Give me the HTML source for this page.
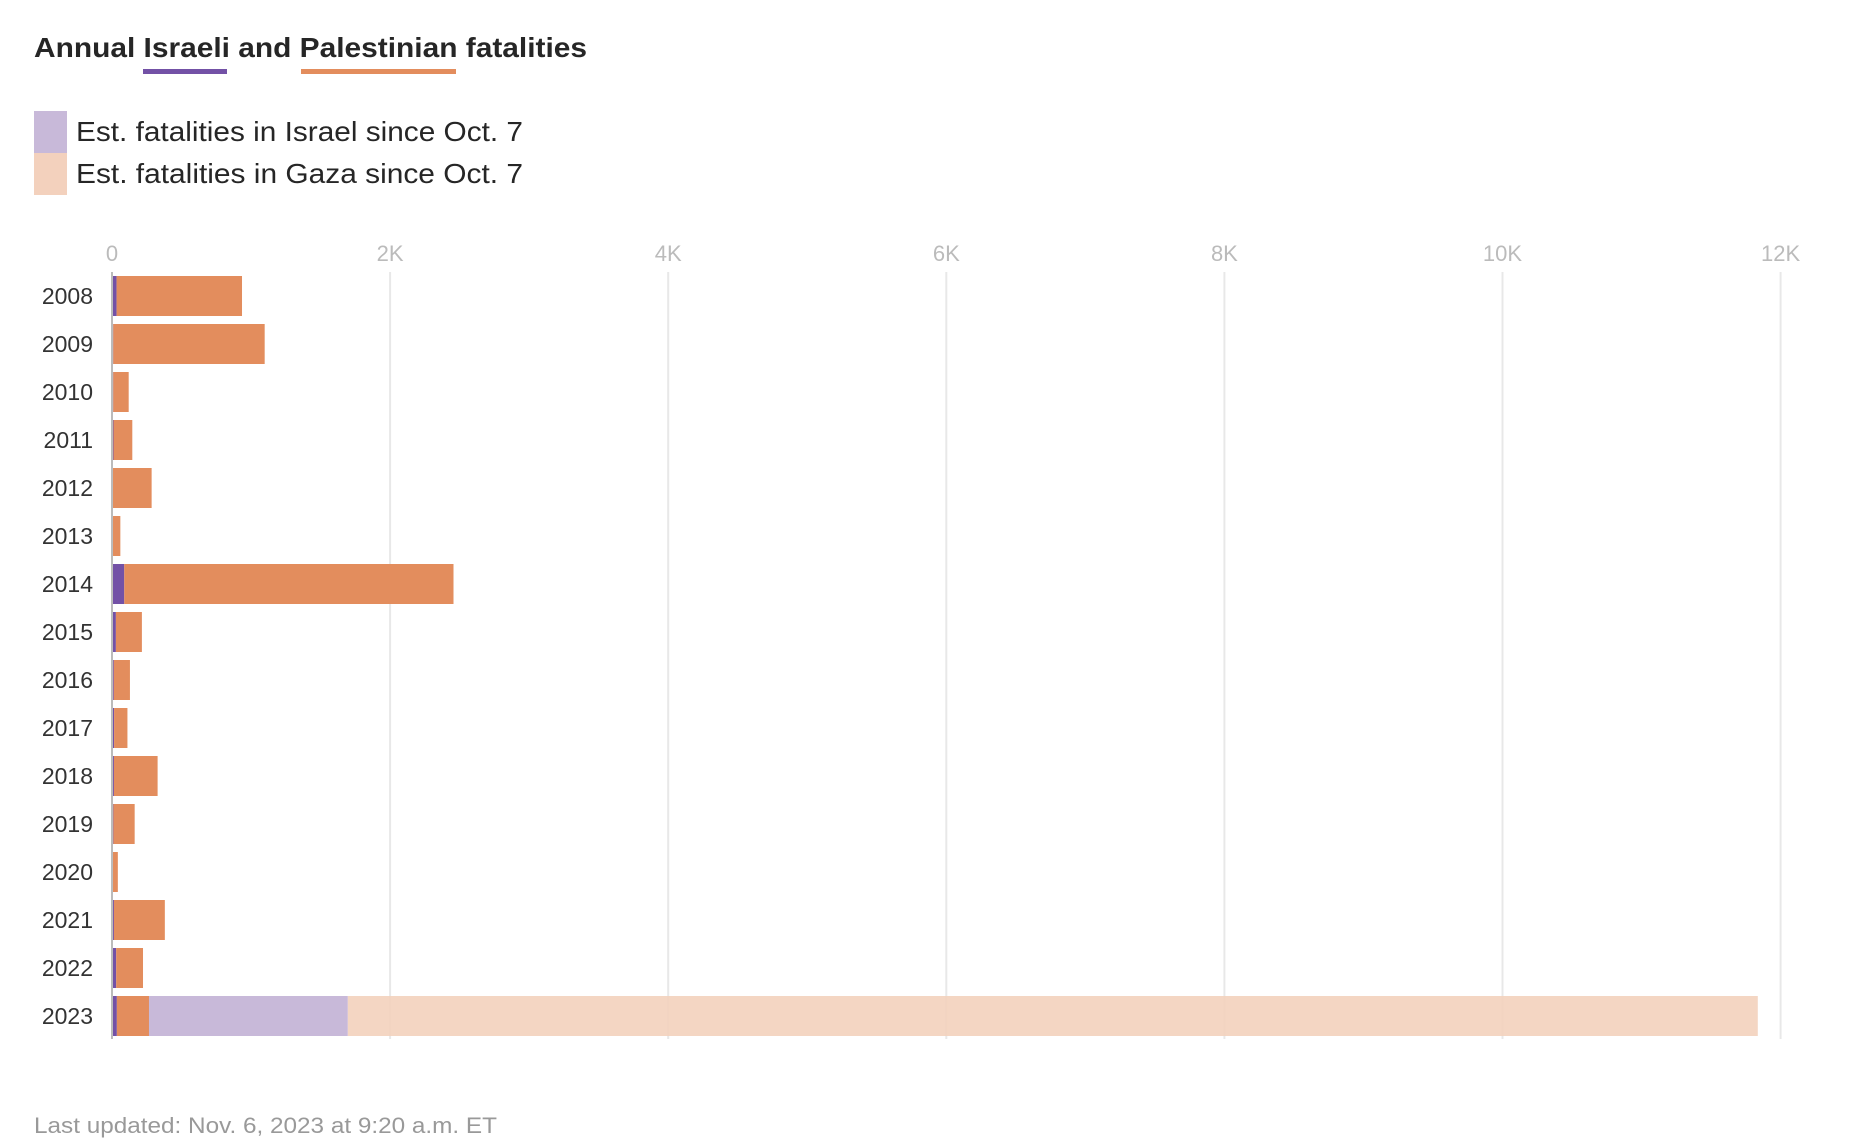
<!DOCTYPE html>
<html><head><meta charset="utf-8"><style>
html,body{margin:0;padding:0;background:#fff;}
svg{display:block;font-family:"Liberation Sans",sans-serif;}
</style></head><body>
<svg id="chart" width="1865" height="1143" viewBox="0 0 1865 1143" xmlns="http://www.w3.org/2000/svg">
<text x="34" y="57" font-size="28" font-weight="bold" fill="#262626" textLength="553" lengthAdjust="spacingAndGlyphs">Annual Israeli and Palestinian fatalities</text>
<rect x="143" y="69" width="84" height="5" fill="#7351a6"/>
<rect x="301" y="69" width="155" height="5" fill="#e38d5d"/>
<rect x="34" y="111" width="33" height="42" fill="#c8b9d9"/>
<rect x="34" y="153" width="33" height="42" fill="#f3d1bd"/>
<text x="76" y="141" font-size="28" fill="#262626" textLength="447" lengthAdjust="spacingAndGlyphs">Est. fatalities in Israel since Oct. 7</text>
<text x="76" y="183" font-size="28" fill="#262626" textLength="447" lengthAdjust="spacingAndGlyphs">Est. fatalities in Gaza since Oct. 7</text>
<g id="grid"></g>
<g id="bars"></g>
<g id="labels"></g>
<rect x="111" y="272" width="2" height="767" fill="#bbbbbb"/>
<text x="34" y="1133" font-size="22" fill="#999999" textLength="463" lengthAdjust="spacingAndGlyphs">Last updated: Nov. 6, 2023 at 9:20 a.m. ET</text>
</svg>
<script>
const years = ["2008","2009","2010","2011","2012","2013","2014","2015","2016","2017","2018","2019","2020","2021","2022","2023"];
const israeli = [33, 9, 9, 11, 7, 6, 88, 28, 13, 15, 14, 10, 3, 14, 30, 35];
const palestinian = [902, 1089, 111, 135, 278, 54, 2368, 187, 116, 96, 314, 153, 39, 366, 193, 231];
const israelSinceOct7 = [0, 0, 0, 0, 0, 0, 0, 0, 0, 0, 0, 0, 0, 0, 0, 1430];
const gazaSinceOct7 = [0, 0, 0, 0, 0, 0, 0, 0, 0, 0, 0, 0, 0, 0, 0, 10140];
const ticks = [0, 2000, 4000, 6000, 8000, 10000, 12000];
const tickLabels = ["0","2K","4K","6K","8K","10K","12K"];

const NS = "http://www.w3.org/2000/svg";
const x0 = 112, pxPer = 278.1/2000;
const xs = v => x0 + v*pxPer;
const rowTop = i => 276 + i*48;
const barH = 40;
const grid = document.getElementById('grid');
const bars = document.getElementById('bars');
const labels = document.getElementById('labels');

ticks.forEach((t,i)=>{
  if(i>0){
    const l=document.createElementNS(NS,'rect');
    l.setAttribute('x',xs(t)-1);l.setAttribute('y',272);l.setAttribute('width',2);l.setAttribute('height',767);l.setAttribute('fill','#e8e8e8');
    
    
    grid.appendChild(l);
  }
  const tx=document.createElementNS(NS,'text');
  tx.setAttribute('x',xs(t));tx.setAttribute('y',261);tx.setAttribute('text-anchor','middle');tx.setAttribute('font-size','22');tx.setAttribute('fill','#bbbbbb');
  tx.textContent=tickLabels[i];
  
  
  labels.appendChild(tx);
});

years.forEach((y,i)=>{
  const segs=[[israeli[i],'#7351a6','bar-israeli-'+y],[palestinian[i],'#e38d5d','bar-palestinian-'+y],[israelSinceOct7[i],'#c8b9d9','bar-israel-oct7-'+y],[gazaSinceOct7[i],'#f3d1bd','bar-gaza-oct7-'+y]];
  let acc=0;
  segs.forEach(s=>{
    if(s[0]<=0) return;
    const r=document.createElementNS(NS,'rect');
    r.setAttribute('x',xs(acc));r.setAttribute('y',rowTop(i));r.setAttribute('width',Math.max(1,xs(acc+s[0])-xs(acc)));r.setAttribute('height',barH);r.setAttribute('fill',s[1]);
    if(s[1]==='#f3d1bd') r.setAttribute('fill-opacity','0.9');
    
    
    bars.appendChild(r);
    acc+=s[0];
  });
  const t=document.createElementNS(NS,'text');
  t.setAttribute('x',93);t.setAttribute('y',rowTop(i)+28);t.setAttribute('text-anchor','end');t.setAttribute('font-size','23');t.setAttribute('fill','#333333');
  t.textContent=y;
  
  
  labels.appendChild(t);
});
</script>
</body></html>
